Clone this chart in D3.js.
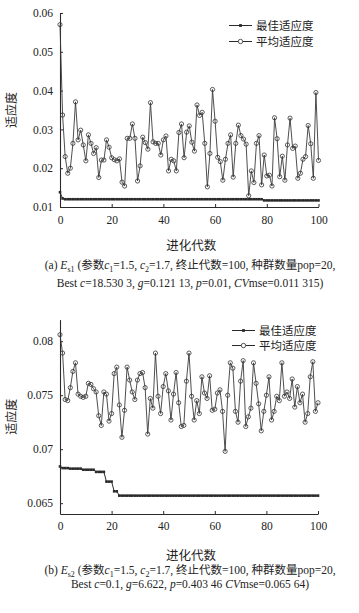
<!DOCTYPE html>
<html>
<head>
<meta charset="utf-8">
<script src="https://cdn.jsdelivr.net/npm/d3@7/dist/d3.min.js"></script>
<style>
  html, body { margin: 0; padding: 0; background: #fff; }
  svg { display: block; }
  text { font-family: "Liberation Serif", "Noto Sans CJK SC", serif; fill: #222; }
</style>
</head>
<body>
<svg id="chart" width="359" height="613"></svg>
<script>
// ---------- DATA ----------
const generations = d3.range(0, 101); // 0..100
const xTickValues = [0, 20, 40, 60, 80, 100];
const xTickLabels = ["0", "20", "40", "60", "80", "100"];

const yTickValuesA = [0.01, 0.02, 0.03, 0.04, 0.05, 0.06];
const yTickLabelsA = ["0.01", "0.02", "0.03", "0.04", "0.05", "0.06"];
const yTickValuesB = [0.065, 0.07, 0.075, 0.08];
const yTickLabelsB = ["0.065", "0.07", "0.075", "0.08"];

const seriesNames = ["最佳适应度", "平均适应度"];
const xAxisTitle = "进化代数";
const yAxisTitle = "适应度";

// (a) Es1 best fitness
const bestA = [
  0.0138,0.0122,0.0120,0.0120,0.0120,0.0120,0.0120,0.0120,0.0120,0.0120,
  0.0120,0.0120,0.0120,0.0120,0.0120,0.0120,0.0120,0.0120,0.0120,0.0120,
  0.0120,0.0120,0.0120,0.0120,0.0120,0.0120,0.0120,0.0120,0.0120,0.0120,
  0.0120,0.0120,0.0120,0.0120,0.0120,0.0120,0.0120,0.0120,0.0120,0.0120,
  0.0120,0.0120,0.0120,0.0120,0.0120,0.0120,0.0120,0.0120,0.0120,0.0120,
  0.0120,0.0120,0.0120,0.0120,0.0120,0.0120,0.0120,0.0120,0.0120,0.0120,
  0.0120,0.0120,0.0120,0.0120,0.0120,0.0120,0.0120,0.0120,0.0120,0.0120,
  0.0120,0.0120,0.0120,0.0120,0.0120,0.0120,0.0120,0.0120,0.0120,0.0117,
  0.0117,0.0117,0.0117,0.0117,0.0117,0.0117,0.0117,0.0117,0.0117,0.0117,
  0.0117,0.0117,0.0117,0.0117,0.0117,0.0117,0.0117,0.0117,0.0117,0.0117,
  0.0117
];
// (a) Es1 average fitness
const avgA = [
  0.0570,0.0337,0.0230,0.0187,0.0200,0.0264,0.0371,0.0273,0.0298,0.0260,
  0.0219,0.0286,0.0264,0.0238,0.0253,0.0176,0.0221,0.0221,0.0273,0.0254,
  0.0227,0.0222,0.0219,0.0224,0.0164,0.0154,0.0277,0.0277,0.0314,0.0277,
  0.0167,0.0206,0.0280,0.0266,0.0249,0.0369,0.0268,0.0264,0.0264,0.0234,
  0.0273,0.0283,0.0193,0.0223,0.0219,0.0193,0.0292,0.0314,0.0227,0.0293,
  0.0309,0.0267,0.0244,0.0363,0.0336,0.0344,0.0264,0.0152,0.0238,0.0403,
  0.0321,0.0228,0.0217,0.0169,0.0223,0.0264,0.0286,0.0177,0.0264,0.0311,
  0.0284,0.0275,0.0262,0.0129,0.0193,0.0163,0.0264,0.0284,0.0157,0.0234,
  0.0180,0.0182,0.0154,0.0330,0.0276,0.0178,0.0231,0.0169,0.0260,0.0329,
  0.0251,0.0257,0.0174,0.0187,0.0223,0.0230,0.0310,0.0263,0.0174,0.0395,
  0.0220
];
// (b) Es2 best fitness
const bestB = [
  0.0684,0.06825,0.06825,0.06825,0.0682,0.0682,0.0682,0.0682,0.0682,0.0681,
  0.0681,0.0681,0.0681,0.0681,0.0679,0.0679,0.0679,0.0679,0.0670,0.0670,
  0.0670,0.0661,0.0661,0.0657,0.0657,0.0657,0.0657,0.0657,0.0657,0.0657,
  0.0657,0.0657,0.0657,0.0657,0.0657,0.0657,0.0657,0.0657,0.0657,0.0657,
  0.0657,0.0657,0.0657,0.0657,0.0657,0.0657,0.0657,0.0657,0.0657,0.0657,
  0.0657,0.0657,0.0657,0.0657,0.0657,0.0657,0.0657,0.0657,0.0657,0.0657,
  0.0657,0.0657,0.0657,0.0657,0.0657,0.0657,0.0657,0.0657,0.0657,0.0657,
  0.0657,0.0657,0.0657,0.0657,0.0657,0.0657,0.0657,0.0657,0.0657,0.0657,
  0.0657,0.0657,0.0657,0.0657,0.0657,0.0657,0.0657,0.0657,0.0657,0.0657,
  0.0657,0.0657,0.0657,0.0657,0.0657,0.0657,0.0657,0.0657,0.0657,0.0657,
  0.0657
];
// (b) Es2 average fitness
const avgB = [
  0.0806,0.0789,0.0746,0.0745,0.0757,0.0772,0.0780,0.0751,0.0749,0.0748,
  0.0749,0.0761,0.0760,0.0756,0.0753,0.0731,0.0722,0.0753,0.0751,0.0726,
  0.0733,0.0770,0.0776,0.0741,0.0711,0.0736,0.0776,0.0764,0.0753,0.0746,
  0.0764,0.0770,0.0771,0.0757,0.0714,0.0747,0.0738,0.0789,0.0749,0.0733,
  0.0758,0.0770,0.0754,0.0727,0.0751,0.0771,0.0743,0.0721,0.0722,0.0763,
  0.0789,0.0749,0.0727,0.0745,0.0733,0.0767,0.0752,0.0747,0.0768,0.0736,
  0.0737,0.0752,0.0755,0.0735,0.0698,0.0750,0.0780,0.0775,0.0735,0.0725,
  0.0763,0.0782,0.0721,0.0730,0.0738,0.0780,0.0761,0.0742,0.0717,0.0735,
  0.0750,0.0767,0.0727,0.0735,0.0749,0.0745,0.0780,0.0749,0.0753,0.0747,
  0.0765,0.0739,0.0758,0.0743,0.0751,0.0725,0.0733,0.0767,0.0781,0.0735,
  0.0743
];

const captionA = [
  [{t:"(a) "},{t:"E",i:1},{t:"s1",sub:1},{t:" (参数"},{t:"c",i:1},{t:"1",sub:1},{t:"=1.5, "},{t:"c",i:1},{t:"2",sub:1},{t:"=1.7, 终止代数=100, 种群数量pop=20,"}],
  [{t:"Best "},{t:"c",i:1},{t:"=18.530 3, "},{t:"g",i:1},{t:"=0.121 13, "},{t:"p",i:1},{t:"=0.01, "},{t:"CV",i:1},{t:"mse=0.011 315)"}]
];
const captionB = [
  [{t:"(b) "},{t:"E",i:1},{t:"s2",sub:1},{t:" (参数"},{t:"c",i:1},{t:"1",sub:1},{t:"=1.5, "},{t:"c",i:1},{t:"2",sub:1},{t:"=1.7, 终止代数=100, 种群数量pop=20,"}],
  [{t:"Best "},{t:"c",i:1},{t:"=0.1, "},{t:"g",i:1},{t:"=6.622, "},{t:"p",i:1},{t:"=0.403 46 "},{t:"CV",i:1},{t:"mse=0.065 64)"}]
];

// ---------- DRAW ----------
const svg = d3.select("#chart");
const ink = "#2a2a2a";

function drawPanel(cfg) {
  const g = svg.append("g");
  const x = d3.scaleLinear().domain([0, 100]).range([cfg.x0, cfg.x1]);
  const y = d3.scaleLinear().domain(cfg.yDomain).range([cfg.yBottom, cfg.yTop]);

  // axes
  const xAxis = d3.axisBottom(x).tickValues(xTickValues)
    .tickFormat((d, i) => xTickLabels[i]).tickSizeInner(-3).tickSizeOuter(0).tickPadding(cfg.xPad);
  const yAxis = d3.axisLeft(y).tickValues(cfg.yTicks)
    .tickFormat((d, i) => cfg.yLabels[i]).tickSizeInner(-3).tickSizeOuter(0).tickPadding(7);

  const gx = g.append("g").attr("transform", `translate(0,${cfg.yBottom})`).call(xAxis);
  const gy = g.append("g").attr("transform", `translate(${cfg.x0},0)`).call(yAxis);
  [gx, gy].forEach(a => {
    a.selectAll("path").attr("stroke", ink).attr("stroke-width", 1.1);
    a.selectAll("line").attr("stroke", ink).attr("stroke-width", 1);
    a.selectAll("text").attr("font-size", 11.5).attr("fill", "#222")
      .style("font-family", "'Liberation Serif', serif");
  });

  // lines
  const line = d3.line().x((d, i) => x(generations[i])).y(d => y(d));
  g.append("path").datum(cfg.avg).attr("d", line)
    .attr("fill", "none").attr("stroke", "#3a3a3a").attr("stroke-width", 0.9);
  g.append("path").datum(cfg.best).attr("d", line)
    .attr("fill", "none").attr("stroke", ink).attr("stroke-width", 1);

  // markers
  g.append("g").selectAll("rect").data(cfg.best).join("rect")
    .attr("x", (d, i) => x(generations[i]) - 1.3)
    .attr("y", d => y(d) - 1.3)
    .attr("width", 2.6).attr("height", 2.6).attr("fill", ink);
  g.append("g").selectAll("circle").data(cfg.avg).join("circle")
    .attr("cx", (d, i) => x(generations[i]))
    .attr("cy", d => y(d))
    .attr("r", 2.1).attr("fill", "none").attr("stroke", "#333").attr("stroke-width", 0.8);

  // axis titles
  g.append("text").attr("x", (cfg.x0 + cfg.x1) / 2 + 2).attr("y", cfg.xTitleY)
    .attr("text-anchor", "middle").attr("font-size", 12.5).attr("fill", "#333")
    .style("font-family", "'Noto Sans CJK SC', sans-serif").text(xAxisTitle);
  g.append("text")
    .attr("transform", `translate(${cfg.yTitleX},${(cfg.yTop + cfg.yBottom) / 2}) rotate(-90)`)
    .attr("text-anchor", "middle").attr("font-size", 12).attr("fill", "#555")
    .style("font-family", "'Noto Sans CJK SC', sans-serif").text(yAxisTitle);

  // legend
  const lg = g.append("g");
  seriesNames.forEach((name, k) => {
    const ly = cfg.legendY[k];
    lg.append("line").attr("x1", cfg.legendX).attr("x2", cfg.legendX + 23)
      .attr("y1", ly).attr("y2", ly).attr("stroke", ink).attr("stroke-width", 1);
    if (k === 0) {
      lg.append("rect").attr("x", cfg.legendX + 11.5 - 1.4).attr("y", ly - 1.4)
        .attr("width", 2.8).attr("height", 2.8).attr("fill", ink);
    } else {
      lg.append("circle").attr("cx", cfg.legendX + 11.5).attr("cy", ly).attr("r", 2.2)
        .attr("fill", "#fff").attr("stroke", ink).attr("stroke-width", 0.8);
    }
    lg.append("text").attr("x", cfg.legendX + 27).attr("y", ly + 4)
      .attr("font-size", 11.5).attr("fill", "#555")
      .style("font-family", "'Noto Sans CJK SC', sans-serif").text(name);
  });

  // caption
  cfg.caption.forEach((segs, li) => {
    const t = g.append("text").attr("x", 190).attr("y", cfg.captionY[li])
      .attr("text-anchor", "middle").attr("font-size", 11.5).attr("fill", "#222");
    let shifted = false;
    segs.forEach(s => {
      const ts = t.append("tspan").text(s.t);
      if (s.i) ts.attr("font-style", "italic");
      if (s.sub) { ts.attr("font-size", 8).attr("dy", shifted ? 0 : 2.5); shifted = true; }
      else if (shifted) { ts.attr("dy", -2.5); shifted = false; }
    });
  });
}

drawPanel({
  x0: 60, x1: 318.5, yDomain: [0.01, 0.06], yBottom: 207, yTop: 13,
  yTicks: yTickValuesA, yLabels: yTickLabelsA, xPad: 9,
  best: bestA, avg: avgA,
  xTitleY: 249.5, yTitleX: 16, legendX: 229, legendY: [25.5, 41.5],
  caption: captionA, captionY: [269, 287]
});
drawPanel({
  x0: 60, x1: 318, yDomain: [0.064, 0.082], yBottom: 514, yTop: 319.6,
  yTicks: yTickValuesB, yLabels: yTickLabelsB, xPad: 8,
  best: bestB, avg: avgB,
  xTitleY: 559.5, yTitleX: 16, legendX: 232, legendY: [330.5, 345.5],
  caption: captionB, captionY: [574, 588]
});
</script>
</body>
</html>
